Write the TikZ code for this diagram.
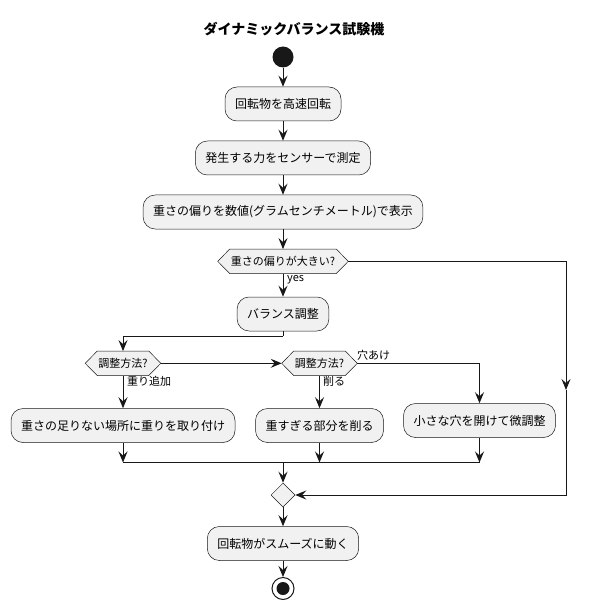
\documentclass[tikz,border=0pt]{standalone}
\usepackage{fontspec}
\setmainfont{Noto Sans CJK JP}
\usetikzlibrary{arrows.meta,shapes.geometric}
\definecolor{pfill}{HTML}{F1F1F1}
\definecolor{pline}{HTML}{181818}
\pgfdeclarelayer{bg}
\pgfsetlayers{bg,main}
\newcommand\myhex[3]{%
  \node[hexin] (#1) at (#2) {#3};
  \coordinate (#1l) at ([xshift=-12pt]#1.west);
  \coordinate (#1r) at ([xshift=12pt]#1.east);
  \begin{pgfonlayer}{bg}
  \draw[hexline] (#1l) -- (#1.north west) -- (#1.north east) -- (#1r) -- (#1.south east) -- (#1.south west) -- cycle;
  \end{pgfonlayer}}
\begin{document}
\begin{tikzpicture}[x=1pt,y=-1pt,
  act/.style={draw=pline, line width=0.5pt, fill=pfill, rounded corners=12pt, minimum height=34pt, inner xsep=10pt, font=\fontsize{12}{14}\selectfont},
  hexin/.style={inner xsep=1pt, inner ysep=0pt, minimum height=24pt, font=\fontsize{11}{13}\selectfont},
  hexline/.style={draw=pline, line width=0.5pt, fill=pfill},
  conn/.style={draw=pline, line width=1pt, -{Stealth[length=11pt,width=9pt,inset=4pt]}},
  plain/.style={draw=pline, line width=1pt},
  lbl/.style={font=\fontsize{11}{13}\selectfont, inner sep=1pt},
]
\useasboundingbox (0,0) rectangle (590,612);
\node[font=\fontsize{14}{16}\selectfont\bfseries] (title) at (294,29) {ダイナミックバランス試験機};
\node[circle, fill=pline, minimum size=21pt, inner sep=0pt] (start) at (283,57) {};
\node[act] (b1) at (283,104) {回転物を高速回転};
\node[act] (b2) at (283,158) {発生する力をセンサーで測定};
\node[act] (b3) at (283,212) {重さの偏りを数値(グラムセンチメートル)で表示};
\myhex{d1}{283,261.3}{重さの偏りが大きい?}
\node[act] (bal) at (283,314) {バランス調整};
\myhex{d2}{123,363.3}{調整方法?}
\myhex{d3}{319.5,363.3}{調整方法?}
\node[act] (b4) at (123,425.5) {重さの足りない場所に重りを取り付け};
\node[act] (b5) at (319.5,425.5) {重すぎる部分を削る};
\node[act] (b6) at (479.5,420.5) {小さな穴を開けて微調整};
\node[diamond, draw=pline, line width=0.5pt, fill=pfill, minimum width=24pt, minimum height=24pt, inner sep=0pt] (m) at (283,495) {};
\node[act] (b7) at (283,543.5) {回転物がスムーズに動く};
\node[circle, draw=pline, line width=1pt, fill=white, minimum size=22pt, inner sep=0pt] (stop) at (283,588.5) {};
\node[circle, fill=pline, minimum size=13pt, inner sep=0pt] (stopin) at (stop) {};
% labels
\node[lbl, anchor=west] (lyes) at (286,280) {yes};
\node[lbl, anchor=west] (l1) at (126,381) {重り追加};
\node[lbl, anchor=west] (l2) at (322,381) {削る};
\node[lbl, anchor=west] (l3) at (356,355) {穴あけ};
% coordinates
\coordinate (rc) at (566,390);
\coordinate (rb) at (566,495);
\coordinate (bj) at (283,336);
\coordinate (j4) at (123,462.5);
\coordinate (j5) at (319.5,462.5);
\coordinate (j6) at (479.5,462.5);
\coordinate (jm) at (283,462.5);
% connectors
\draw[conn] (start) -- (b1);
\draw[conn] (b1) -- (b2);
\draw[conn] (b2) -- (b3);
\draw[conn] (b3) -- (d1);
\draw[conn] (d1) -- (bal);
\draw[conn] (d1r) -| (rc);
\draw[conn] (rc) -- (rb) -- (m.east);
\draw[plain] (bal) -- (bj);
\draw[conn] (bj) -| (d2.north);
\draw[conn] (d2r) -- (d3l);
\draw[conn] (d3r) -| (b6.north);
\draw[conn] (d2) -- (b4);
\draw[conn] (d3) -- (b5);
\draw[conn] (b4) -- (j4);
\draw[conn] (b5) -- (j5);
\draw[conn] (b6) -- (j6);
\draw[plain] (j4) -- (j6);
\draw[conn] (jm) -- (m);
\draw[conn] (m) -- (b7);
\draw[conn] (b7) -- (stop);
\end{tikzpicture}
\end{document}
